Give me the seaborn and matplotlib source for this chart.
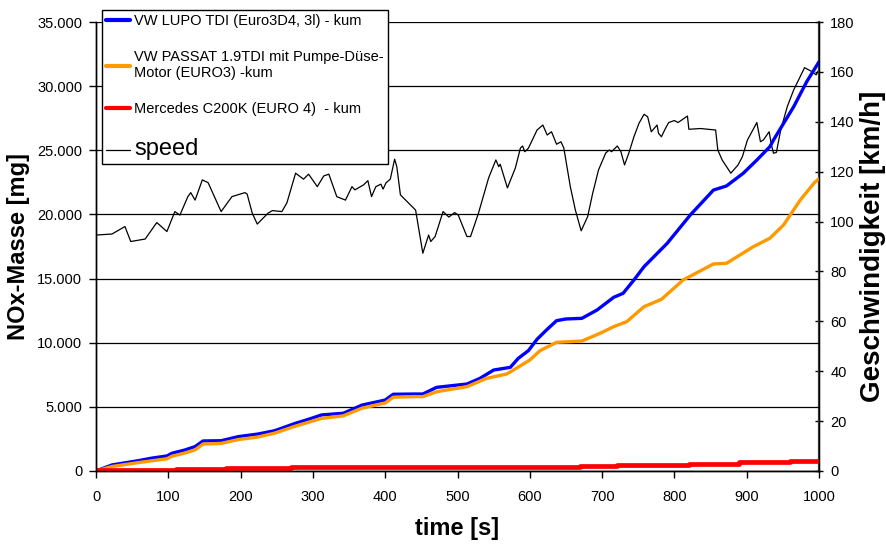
import matplotlib
matplotlib.use("Agg")
import matplotlib.pyplot as plt
import matplotlib.ticker as mticker
import numpy as np
import pandas as pd
import seaborn as sns

# cumulative NOx mass [mg]
lupo_t = [0, 22, 58, 78, 98, 105, 123, 137, 148, 173, 197, 224, 247, 276, 294, 312, 342, 368,
          400, 411, 440, 452, 471, 513, 531, 550, 573, 584, 598, 610, 623, 637, 650, 672, 693,
          716, 729, 744, 758, 790, 822, 854, 872, 895, 914, 932, 937, 965, 983, 1000]
lupo_mg = [0, 470, 800, 1010, 1170, 1380, 1640, 1900, 2340, 2360, 2680, 2880, 3140, 3720, 4030,
           4370, 4500, 5140, 5530, 5980, 6000, 6000, 6520, 6780, 7220, 7870, 8080, 8780, 9380,
           10270, 10990, 11720, 11850, 11900, 12550, 13540, 13850, 14890, 15930, 17750, 19960,
           21900, 22220, 23200, 24240, 25280, 25800, 28400, 30350, 31900]

passat_t = [0, 22, 58, 78, 98, 105, 123, 137, 148, 173, 197, 224, 247, 276, 294, 312, 342, 368,
            400, 411, 440, 452, 471, 513, 540, 568, 581, 600, 614, 637, 672, 697, 716, 734, 758,
            782, 812, 854, 872, 909, 932, 951, 974, 993, 1000]
passat_mg = [0, 350, 650, 800, 950, 1150, 1400, 1650, 2100, 2150, 2450, 2650, 2950, 3500, 3800,
             4100, 4300, 4900, 5300, 5750, 5800, 5790, 6180, 6570, 7220, 7560, 8000, 8650, 9380,
             10030, 10130, 10730, 11250, 11640, 12810, 13380, 14890, 16140, 16190, 17480, 18140,
             19180, 21120, 22430, 22800]

merc_t = [0, 110, 180, 270, 440, 670, 720, 820, 890, 960, 1000]
merc_mg = [80, 150, 230, 280, 340, 400, 450, 530, 700, 800, 800]

# vehicle speed [km/h]
speed_t = [0, 22, 40, 48, 68, 84, 98, 109, 116, 127, 131, 137, 147, 155, 173, 188, 206, 209, 216,
           223, 238, 244, 257, 264, 276, 287, 294, 306, 315, 322, 333, 345, 354, 358, 370, 376,
           381, 387, 394, 397, 401, 407, 413, 416, 421, 442, 452, 460, 463, 469, 480, 488, 496,
           501, 513, 518, 529, 543, 553, 557, 559, 569, 580, 587, 590, 593, 598, 610, 618, 624,
           630, 637, 643, 647, 656, 663, 671, 680, 687, 695, 705, 710, 713, 721, 726, 731, 737,
           744, 751, 758, 763, 768, 776, 778, 782, 787, 792, 800, 805, 818, 820, 836, 857, 860,
           866, 878, 888, 894, 901, 914, 919, 923, 931, 934, 937, 941, 947, 956, 965, 980, 991,
           996, 1000]
speed_kmh = [94.6, 95, 98, 92, 93, 99.6, 96, 104, 102.6, 110, 111.6, 108.6, 116.7, 115.6, 104,
             110, 111.6, 111, 103.4, 99, 103.4, 104.4, 104, 107.5, 119.4, 117, 119, 114, 118.3,
             119, 110, 108.6, 114, 112.7, 114.7, 116.4, 110, 114, 115, 113, 115.5, 117, 125, 122,
             110.7, 104.6, 87.3, 94.6, 92, 94, 104, 101.8, 103.6, 102.6, 94, 94, 103.4, 117.5,
             124.7, 122, 123, 113.5, 121.5, 129.5, 130.3, 128, 129.4, 136.7, 138.7, 134.7, 136,
             131, 132, 129.5, 114, 104.6, 96.3, 102, 111.4, 120.7, 127.5, 128.7, 128, 130.3, 128,
             122.7, 127.5, 134, 139.4, 143, 142, 136, 138.7, 135.4, 134, 137, 139.7, 140.5, 139.7,
             142.3, 137, 137.3, 136.7, 128.7, 124.7, 119.4, 122.7, 126, 132.7, 139.7, 132, 132.7,
             136, 131, 127.4, 127.7, 136.7, 146, 152.8, 161.7, 160, 158.8, 161]

labels = ["VW LUPO TDI (Euro3D4, 3l) - kum",
          "VW PASSAT 1.9TDI mit Pumpe-Düse-\nMotor (EURO3) -kum",
          "Mercedes C200K (EURO 4)  - kum",
          "speed"]

sns.set_theme(style="ticks")
plt.rcParams['font.family'] = ['Liberation Sans', 'DejaVu Sans']
plt.rcParams['text.color'] = 'black'
plt.rcParams['axes.labelcolor'] = 'black'

fig = plt.figure(figsize=(8.86, 5.45), dpi=100)
ax = fig.add_axes([0.1084, 0.1358, 0.8160, 0.8238])
ax2 = ax.twinx()

sns.lineplot(x=lupo_t, y=lupo_mg, ax=ax, color="#0000FF", lw=2.4, label=labels[0])
sns.lineplot(x=passat_t, y=passat_mg, ax=ax, color="#FF9900", lw=2.4, label=labels[1])
sns.lineplot(x=merc_t, y=merc_mg, ax=ax, color="#FF0000", lw=3.4, label=labels[2],
             drawstyle="steps-post")
sns.lineplot(x=speed_t, y=speed_kmh, ax=ax2, color="black", lw=0.9, label=labels[3])

# NOx curves drawn over the speed trace
ax.set_zorder(ax2.get_zorder() + 1)
ax.patch.set_visible(False)

ax.set_xlim(0, 1000)
ax.set_ylim(0, 35000)
ax2.set_ylim(0, 180)
ax.set_xticks(np.arange(0, 1001, 100))
ax.set_yticks(np.arange(0, 35001, 5000))
ax2.set_yticks(np.arange(0, 181, 20))
ax.yaxis.set_major_formatter(mticker.FuncFormatter(lambda v, p: f"{v:,.0f}".replace(",", ".")))

ax.yaxis.grid(True, color="black", lw=0.9)
ax.xaxis.grid(False)
for a in (ax, ax2):
    for s in a.spines.values():
        s.set_color("black")
        s.set_linewidth(1.0)
ax.spines["top"].set_visible(False)
ax2.spines["top"].set_visible(False)
ax2.spines["right"].set_color("#444444")
ax2.spines["right"].set_linewidth(1.6)

ax.tick_params(axis="both", labelsize=10.5, colors="black", length=5, width=1, pad=5)
ax.tick_params(axis="x", pad=9)
ax2.tick_params(axis="y", labelsize=10.5, colors="black", length=6, width=1,
                direction="inout", pad=5)

ax.set_xlabel("time [s]", fontsize=17, fontweight="bold", labelpad=9, color="black")
ax.set_ylabel("NOx-Masse [mg]", fontsize=17, fontweight="bold", labelpad=5, color="black")
ax2.set_ylabel("Geschwindigkeit [km/h]", fontsize=20, fontweight="bold", labelpad=4,
               color="black")

h1, l1 = ax.get_legend_handles_labels()
h2, l2 = ax2.get_legend_handles_labels()
if ax2.get_legend():
    ax2.get_legend().remove()
leg = ax.legend(h1 + h2, l1 + l2, loc="upper left", bbox_to_anchor=(0.008, 1.027),
                frameon=True, fancybox=False, edgecolor="black", framealpha=1,
                fontsize=10.5, handlelength=1.6, handletextpad=0.3, borderpad=0.3,
                labelspacing=1.5, borderaxespad=0)
leg.get_frame().set_linewidth(1.0)
leg.get_texts()[3].set_fontsize(17)
for hl in leg.legend_handles[:3]:
    hl.set_linewidth(3)

fig.savefig("out.png", dpi=100)
